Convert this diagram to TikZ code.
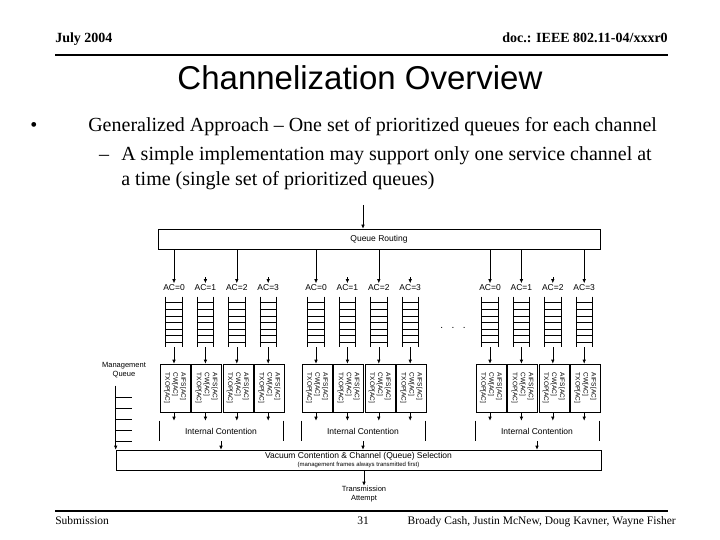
\documentclass[tikz,border=0pt]{standalone}
\usepackage{fontspec}
\setmainfont{Liberation Serif}
\setsansfont{Liberation Sans}
\usepackage{graphicx}
\usetikzlibrary{arrows.meta,positioning,calc}

\newcommand\acparams{\rotatebox{-90}{\begin{tabular}{@{}l@{}}AIFS[AC]\\CW[AC]\\TXOP[AC]\end{tabular}}}

\begin{document}
\begin{tikzpicture}[
  x=1pt, y=-1pt,
  >={Latex[length=4pt,width=3.5pt]},
  line width=0.6pt,
  dgm/.style={font=\sffamily\fontsize{8.5}{10}\selectfont},
  dgmbox/.style={draw, inner sep=0pt, dgm},
  aclabel/.style={dgm, inner sep=1.5pt},
  ladder/.style={minimum width=16pt, minimum height=50pt, inner sep=0pt},
  parambox/.style={draw, minimum width=30pt, minimum height=48pt, inner sep=0pt,
                   font=\sffamily\fontsize{6.5}{8}\selectfont},
  contention/.style={dgm, minimum width=123pt, minimum height=20pt, inner sep=0pt},
  smalltxt/.style={font=\sffamily\fontsize{7.5}{9}\selectfont, align=center, inner sep=0pt},
  slide/.style={font=\fontsize{20}{24}\selectfont, inner sep=0pt},
  foottxt/.style={font=\fontsize{11.5}{14}\selectfont, inner sep=0pt}
]
  \useasboundingbox (0,0) rectangle (720,540);

  % header
  \node[font=\bfseries\fontsize{14}{16}\selectfont, anchor=base west, inner sep=0pt] (date) at (55,43) {July 2004};
  \node[font=\bfseries\fontsize{14}{16}\selectfont, anchor=base east, inner sep=0pt] (docid) at (668,43) {doc.: IEEE 802.11-04/xxxr0};
  \draw[line width=1.5pt] (55,55) -- (668,55);
  \node[font=\sffamily\fontsize{33}{38}\selectfont, inner sep=0pt] (title) at (360,78) {Channelization Overview};

  % bullets
  \node[slide, anchor=base] (dot1) at (34,132) {•};
  \node[slide, anchor=base west] (line1) at (88,132) {Generalized Approach – One set of prioritized queues for each channel};
  \node[slide, anchor=base] (dash1) at (104,161) {–};
  \node[slide, anchor=base west] (line2) at (121,161) {A simple implementation may support only one service channel at};
  \node[slide, anchor=base west] (line3) at (121,186) {a time (single set of prioritized queues)};

  % routing
  \coordinate (in) at (363,205);
  \node[dgmbox, minimum width=442pt, minimum height=20pt] (qr) at (379,239) {Queue Routing};
  \draw[->] (in) -- (in |- qr.north);

  % bottom selection box
  \node[dgmbox, minimum width=485pt, minimum height=20pt, align=center] (vcs) at (358.5,460)
    {Vacuum Contention \& Channel (Queue) Selection\\[-1.5pt]{\fontsize{6}{7}\selectfont(management frames always transmitted first)}};

  % the three channel groups
  \foreach \g/\gx in {1/174, 2/316, 3/490} {
    \node[contention] (ic-\g) at (\gx+47,431) {Internal Contention};
    \draw (ic-\g.north west) -- (ic-\g.south west) (ic-\g.north east) -- (ic-\g.south east);
    \draw[->] (ic-\g.south) -- (ic-\g.south |- vcs.north);
    \foreach \i in {0,...,3} {
      \pgfmathsetmacro\cx{\gx+31.4*\i}
      \node[aclabel] (ac-\g-\i) at (\cx,288) {AC=\i};
      \node[ladder] (q-\g-\i) at (\cx,322) {};
      \node[parambox] (p-\g-\i) at (\cx+1,388) {\acparams};
      \draw (q-\g-\i.north west) -- (q-\g-\i.south west) (q-\g-\i.north east) -- (q-\g-\i.south east);
      \foreach \k in {0.12,0.25,0.38,0.51,0.64,0.77,0.9}
        \draw ($(q-\g-\i.north west)!\k!(q-\g-\i.south west)$) -- ($(q-\g-\i.north east)!\k!(q-\g-\i.south east)$);
      \draw[->] (q-\g-\i.south) -- (q-\g-\i.south |- p-\g-\i.north);
      \draw[->] (p-\g-\i.south -| q-\g-\i.south) -- (q-\g-\i.south |- ic-\g.north);
    }
  }
  \foreach \n in {1-0,1-2,2-0,2-2,3-0,3-1,3-3}
    \draw[->] (qr.south -| ac-\n.north) -- (ac-\n.north);
  \foreach \n in {1-1,1-3,2-1,2-3,3-2}
    \draw[->] ([yshift=6pt]ac-\n.north) -- (ac-\n.north);
  \node[font=\sffamily\fontsize{10}{12}\selectfont, inner sep=0pt] (more) at (453,328) {.\hspace{8.5pt}.\hspace{8.5pt}.};

  % management queue
  \node[smalltxt] (mql) at (124,370) {Management\\Queue};
  \node[minimum width=16pt, minimum height=55pt, inner sep=0pt] (mq) at (124,413.5) {};
  \draw (mq.north west) -- (mq.south west);
  \foreach \k in {0.2,0.4,0.6,0.8,1}
    \draw ($(mq.north west)!\k!(mq.south west)$) -- ($(mq.north east)!\k!(mq.south east)$);
  \draw[->] (mq.south west) -- (mq.south west |- vcs.north);

  % output
  \node[smalltxt] (tx) at (364,494) {Transmission\\Attempt};
  \draw[->] (vcs.south -| tx.north) -- (tx.north);

  % footer
  \draw[line width=2pt] (55,511) -- (668,511);
  \node[foottxt, anchor=base west] (sub) at (55,524) {Submission};
  \node[foottxt, anchor=base] (pg) at (363,524) {31};
  \node[foottxt, anchor=base east] (auth) at (676,524) {Broady Cash, Justin McNew, Doug Kavner, Wayne Fisher};
\end{tikzpicture}
\end{document}
